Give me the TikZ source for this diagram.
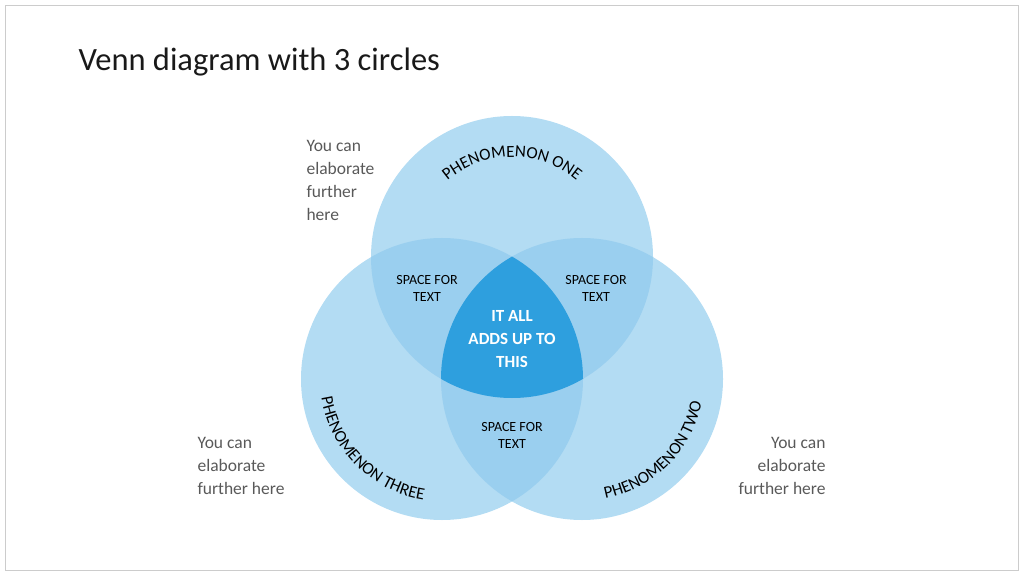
\documentclass[tikz,border=0pt]{standalone}
\usepackage{fontspec}
\setmainfont{Carlito}
\usetikzlibrary{decorations.text,calc}
\definecolor{lite}{HTML}{B3DCF3}
\definecolor{mid}{HTML}{9ACFEF}
\definecolor{dark}{HTML}{2E9FDE}
\definecolor{grey}{HTML}{595959}
\begin{document}
\begin{tikzpicture}[x=1pt,y=1pt,
  small/.style={font=\fontsize{14}{17}\selectfont,align=center,text=black},
  side/.style={font=\fontsize{17.5}{23}\selectfont,text=grey},
  arclab/.style={decorate,decoration={text along path,text align=center,
     text={|\fontsize{17}{17}\selectfont|#1}}}]
\useasboundingbox (0,0) rectangle (1024,576);
\draw[gray!40,line width=1pt] (5,6) rectangle (1018,570);
\node[anchor=west,font=\fontsize{32.5}{34}\selectfont,text=black!90] (title) at (75,514) {Venn diagram with 3 circles};
\coordinate (T) at (512,319);
\coordinate (L) at (442,197);
\coordinate (R) at (582,197);
\def\r{141}
\fill[lite] (T) circle (\r);
\fill[lite] (L) circle (\r);
\fill[lite] (R) circle (\r);
\begin{scope}\clip (T) circle (\r); \fill[mid] (L) circle (\r); \fill[mid] (R) circle (\r);\end{scope}
\begin{scope}\clip (L) circle (\r); \fill[mid] (R) circle (\r);\end{scope}
\begin{scope}\clip (T) circle (\r); \clip (L) circle (\r); \fill[dark] (R) circle (\r);\end{scope}
% curved labels
\path[arclab=PHENOMENON ONE] ($(T)+(145:100)$) arc[start angle=145,end angle=35,radius=100];
\path[arclab=PHENOMENON THREE] ($(L)+(155:122)$) arc[start angle=155,end angle=295,radius=122];
\path[arclab=PHENOMENON TWO] ($(R)+(245:122)$) arc[start angle=245,end angle=385,radius=122];
\node[small] (a) at (427,288) {SPACE FOR\\TEXT};
\node[small] (b) at (596,288) {SPACE FOR\\TEXT};
\node[small] (c) at (512,141) {SPACE FOR\\TEXT};
\node[align=center,text=white,font=\bfseries\fontsize{17}{23}\selectfont] (m) at (512,237) {IT ALL\\ADDS UP TO\\THIS};
\node[side,anchor=north west,align=left] (s1) at (303,439) {You can\\elaborate\\further\\here};
\node[side,anchor=north west,align=left] (s2) at (194,142) {You can\\elaborate\\further here};
\node[side,anchor=north east,align=right] (s3) at (829,142) {You can\\elaborate\\further here};
\end{tikzpicture}
\end{document}
